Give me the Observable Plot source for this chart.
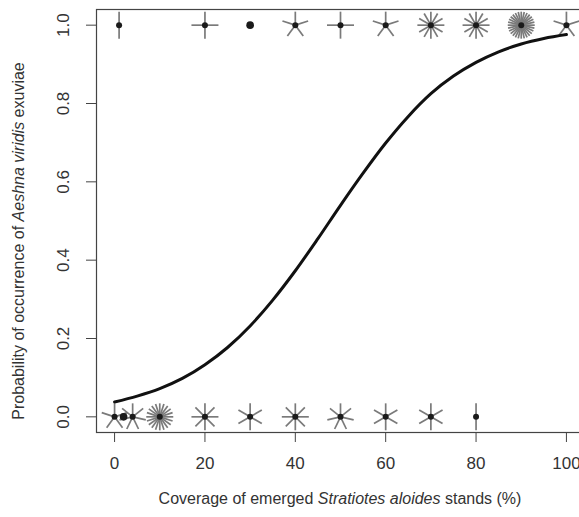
<!DOCTYPE html>
<html><head><meta charset="utf-8">
<script src="https://cdn.jsdelivr.net/npm/d3@7"></script>
<script src="https://cdn.jsdelivr.net/npm/@observablehq/plot@0.6"></script>
<style>
html,body{margin:0;padding:0;background:#fff;overflow:hidden;}
#chart{width:579px;height:517px;overflow:hidden;position:relative;}
#chart svg{max-width:none !important;}
</style></head><body><div id="chart"></div>
<script>
// Observations: coverage (%) where exuviae were absent (0) / present (1), with number of sites
const coverAbsent = [0, 2, 4, 10, 20, 30, 40, 50, 60, 70, 80];
const countAbsent = [5, 1, 7, 20, 8, 6, 8, 7, 6, 6, 2];
const coverPresent = [1, 20, 30, 40, 50, 60, 70, 80, 90, 100];
const countPresent = [2, 4, 1, 5, 4, 5, 12, 12, 28, 5];
// Fitted probability curve
const curveX = [0, 5, 10, 15, 20, 25, 30, 35, 40, 45, 50, 55, 60, 65, 70, 75, 80, 85, 90, 95, 100];
const curveP = [0.038, 0.053, 0.072, 0.098, 0.133, 0.177, 0.232, 0.298, 0.373, 0.455, 0.540, 0.622, 0.699, 0.767, 0.825, 0.870, 0.905, 0.932, 0.952, 0.966, 0.976];
const xTicks = [0, 20, 40, 60, 80, 100];
const yTicks = [0, 0.2, 0.4, 0.6, 0.8, 1.0];
const xTitle = ["Coverage of emerged ", "Stratiotes aloides", " stands (%)"];
const yTitle = ["Probability of occurrence of ", "Aeshna viridis", " exuviae"];

const points = [
  ...coverAbsent.map((x, i) => ({x, y: 0, n: countAbsent[i]})),
  ...coverPresent.map((x, i) => ({x, y: 1, n: countPresent[i]}))
];
const petals = [];
for (const p of points) {
  if (p.n > 1) for (let k = 1; k <= p.n; k++) petals.push({x: p.x, y: p.y, rotate: 360 * k / p.n});
}
const curve = curveX.map((x, i) => ({x, p: curveP[i]}));

const petalShape = {draw(ctx, l) { ctx.moveTo(0, 0); ctx.lineTo(0, -l); }};

const W = 590, H = 517;
const plot = Plot.plot({
  width: W, height: H,
  marginLeft: 96, marginRight: 6, marginTop: 9, marginBottom: 85,
  style: {fontFamily: "'Liberation Sans', Arial, sans-serif", color: "#333", background: "#fff", maxWidth: "none"},
  x: {domain: [-4, 104]},
  y: {domain: [-0.04, 1.04]},
  marks: [
    Plot.vector(petals, {x: "x", y: "y", rotate: "rotate", length: 13.5, anchor: "start", shape: petalShape, stroke: "#7a7a7a", strokeWidth: 1.7, strokeLinecap: "butt"}),
    Plot.dot(points, {x: "x", y: "y", r: d => d.n > 1 ? 1.6 : 2.6, fill: "#1a1a1a", stroke: "none"}),
    Plot.line(curve, {x: "x", y: "p", stroke: "#111", strokeWidth: 3, curve: "monotone-x"}),
    Plot.frame({stroke: "#444", strokeWidth: 1.2}),
    Plot.axisX({ticks: xTicks, tickSize: 10, tickPadding: 14, fontSize: 17, label: null, stroke: "#444"}),
    Plot.axisY({ticks: yTicks, tickSize: 10, tickPadding: 18, fontSize: 17, tickRotate: -90, tickFormat: d3.format(".1f"), label: null, stroke: "#444"})
  ]
});
document.getElementById("chart").appendChild(plot);

const svg = d3.select(plot);
function title(parts, x, y, rot) {
  const t = svg.append("text")
    .attr("text-anchor", "middle")
    .attr("font-size", 16)
    .attr("fill", "#333")
    .attr("font-family", "'Liberation Sans', Arial, sans-serif")
    .attr("transform", `translate(${x},${y})` + (rot ? ` rotate(${rot})` : ""));
  parts.forEach((s, i) => t.append("tspan").attr("font-style", i === 1 ? "italic" : "normal").text(s));
}
title(xTitle, 340, 504, 0);
title(yTitle, 24, 241, -90);
</script></body></html>
